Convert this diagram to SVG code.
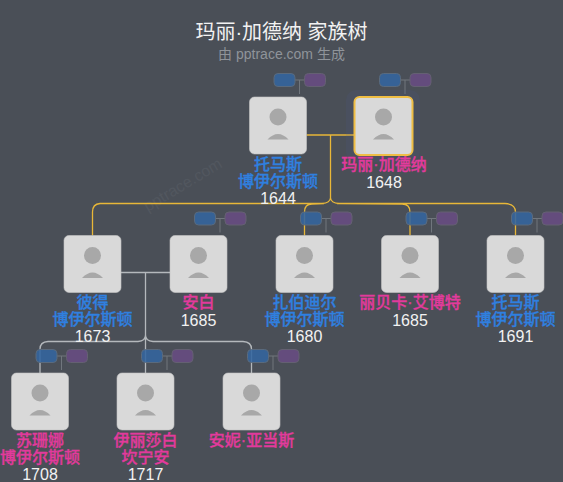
<svg xmlns="http://www.w3.org/2000/svg" width="563" height="482" viewBox="0 0 563 482">
<style>
text{font-family:"Liberation Sans","Noto Sans CJK SC",sans-serif;text-anchor:middle}
.n{font-size:16px;font-weight:500;stroke-width:.3}
.m{fill:#2f80e0;stroke:#2f80e0}.f{fill:#e23a9c;stroke:#e23a9c}
.y{fill:#f2f2f2;font-size:16px}
.card{fill:#d9d9d9;stroke:#c4c4c4;stroke-width:.6}
.av{fill:#a8a8a8}
.gold{fill:none;stroke:#e8b738;stroke-width:1.3}
.grey{fill:none;stroke:#b4b8bc;stroke-width:1.3}
.ml{fill:none;stroke:#70767d;stroke-width:1}
.b{fill:#33659f;stroke:#5a6a7d;fill-opacity:.88}
.p{fill:#684c83;stroke:#646072;fill-opacity:.88}
</style>
<defs>
<g id="mini">
<path class="ml" d="M45 -17H55M50 -17V-3"/>
<rect class="b" x="24.500" y="-23.500" width="21" height="13" rx="4"/>
<rect class="p" x="55" y="-23.500" width="21" height="13" rx="4"/>
</g>
<g id="card">
<rect class="card" width="57" height="57" rx="5"/>
<circle class="av" cx="28.500" cy="20" r="8.500"/>
<path class="av" d="M18 42.500Q28.500 31.500 39 42.500Z"/>
</g>
</defs>
<rect width="563" height="482" fill="#4a4f57"/>
<text x="183" y="190" transform="rotate(-31 183 185)" font-size="16" fill="#52575f">pptrace.com</text>
<text x="281.500" y="39" font-size="20" fill="#f2f2f2">玛丽·加德纳 家族树</text>
<text x="281.500" y="59" font-size="14" fill="#8f949a">由 pptrace.com 生成</text>
<g id="connectors">
<path class="gold" d="M306.500 135H354M330.500 135V198Q330 203 322 203.500H100Q92.500 204 92.500 212V235.500M330.500 198Q331 203 339 203.500H505Q515.500 204 515.500 212V235.500M304.500 235.500V212Q304.500 204 312 204L324 203.500M410 235.500V212Q410 204 402 204L337 203.500"/>
<path class="grey" d="M121 272.500H170M145.500 272.500V373M145.500 335Q145.500 341 138 341.500H48Q40 342 40 349V373M145.500 335Q145.500 341 153 341.500H243Q251.500 342 251.500 349V373"/>
</g>
<g id="p1"><use href="#mini" x="249.500" y="97"/><use href="#card" x="249.500" y="97"/><text class="n m" x="278" y="170">托马斯</text><text class="n m" x="278" y="187">博伊尔斯顿</text><text class="y" x="278" y="204">1644</text></g>
<g id="p2"><use href="#mini" x="355" y="97"/><rect x="346" y="90" width="74" height="72" rx="10" fill="#4a5ea0" opacity=".12"/><rect x="354.500" y="97" width="58" height="58" rx="5" fill="#d9d9d9" stroke="#efbd45" stroke-width="2"/><circle class="av" cx="383.500" cy="117" r="8.500"/><path class="av" d="M373 139.500Q383.500 128.500 394 139.500Z"/><text class="n f" x="384" y="170">玛丽·加德纳</text><text class="y" x="384" y="188">1648</text></g>
<g id="p3"><use href="#card" x="64" y="235.500"/><text class="n m" x="92.500" y="308">彼得</text><text class="n m" x="92.500" y="325">博伊尔斯顿</text><text class="y" x="92.500" y="342">1673</text></g>
<g id="p4"><use href="#mini" x="170" y="235.500"/><use href="#card" x="170" y="235.500"/><text class="n f" x="198.500" y="308">安白</text><text class="y" x="198.500" y="326">1685</text></g>
<g id="p5"><use href="#mini" x="276" y="235.500"/><use href="#card" x="276" y="235.500"/><text class="n m" x="304.500" y="308">扎伯迪尔</text><text class="n m" x="304.500" y="325">博伊尔斯顿</text><text class="y" x="304.500" y="342">1680</text></g>
<g id="p6"><use href="#mini" x="381.500" y="235.500"/><use href="#card" x="381.500" y="235.500"/><text class="n f" x="410" y="308">丽贝卡·艾博特</text><text class="y" x="410" y="326">1685</text></g>
<g id="p7"><use href="#mini" x="487" y="235.500"/><use href="#card" x="487" y="235.500"/><text class="n m" x="515.500" y="308">托马斯</text><text class="n m" x="515.500" y="325">博伊尔斯顿</text><text class="y" x="515.500" y="342">1691</text></g>
<g id="p8"><use href="#mini" x="11.500" y="373"/><use href="#card" x="11.500" y="373"/><text class="n f" x="40" y="446">苏珊娜</text><text class="n f" x="40" y="463">博伊尔斯顿</text><text class="y" x="40" y="480">1708</text></g>
<g id="p9"><use href="#mini" x="117" y="373"/><use href="#card" x="117" y="373"/><text class="n f" x="145.500" y="446">伊丽莎白</text><text class="n f" x="145.500" y="463">坎宁安</text><text class="y" x="145.500" y="480">1717</text></g>
<g id="p10"><use href="#mini" x="223" y="373"/><use href="#card" x="223" y="373"/><text class="n f" x="251.500" y="446">安妮·亚当斯</text></g>
</svg>
